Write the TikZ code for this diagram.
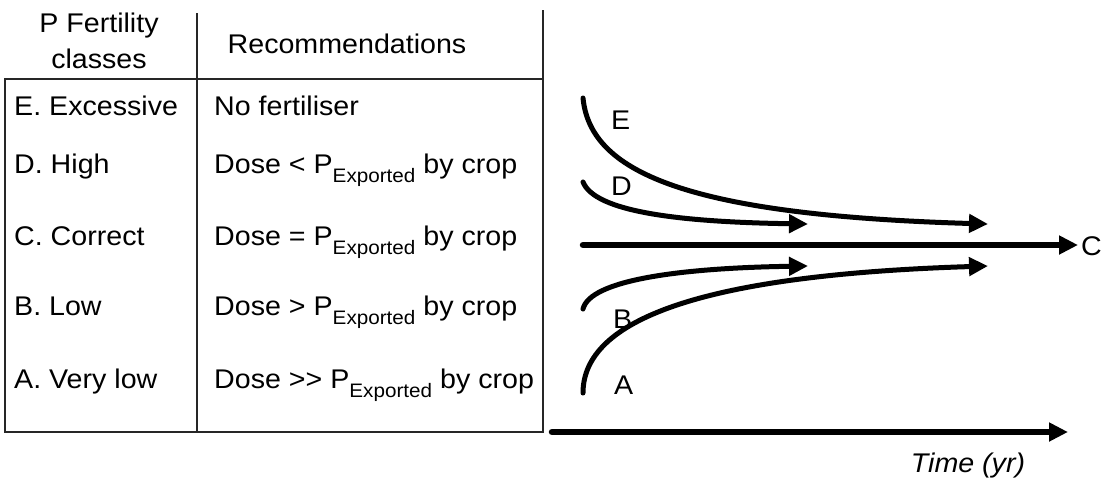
\documentclass[tikz,border=0pt]{standalone}
\usepackage{fontspec}
\setmainfont[FakeStretch=1.06]{Liberation Sans}
\usetikzlibrary{arrows.meta}
\newcommand{\Pexp}{P\raisebox{-9pt}{\fontsize{19.5}{20}\selectfont Exported}}
\begin{document}
\begin{tikzpicture}[x=1pt,y=-1pt,
  txt/.style={inner sep=0pt, anchor=base west, font=\fontsize{27}{32}\selectfont},
  hdr/.style={inner sep=0pt, anchor=base, font=\fontsize{27}{32}\selectfont},
  rulel/.style={line width=1.5pt, black!85},
  curve/.style={line width=5pt, line cap=round, -{Triangle[length=19pt,width=18pt]}},
  axisl/.style={line width=6.5pt, line cap=round, -{Triangle[length=19pt,width=18pt]}}]
\useasboundingbox (0,0) rectangle (1105,483);
% table frame
\coordinate (tl) at (5,79);
\coordinate (tr) at (543,79);
\coordinate (bl) at (5,432);
\coordinate (br) at (543,432);
\coordinate (rtop) at (543,10);
\coordinate (dtop) at (197,13);
\coordinate (dbot) at (197,432);
\draw[rulel] (rtop) -- (br) -- (bl) -- (tl) -- (tr);
\draw[rulel] (dtop) -- (dbot);
% headers
\node[hdr] (h1) at (99,32) {P Fertility};
\node[hdr] (h2) at (99,68) {classes};
\node[hdr] (h3) at (347,53) {Recommendations};
% rows
\node[txt] (rE) at (14,115) {E. Excessive};
\node[txt] (rD) at (14,173) {D. High};
\node[txt] (rC) at (14,245) {C. Correct};
\node[txt] (rB) at (14,315) {B. Low};
\node[txt] (rA) at (14,388) {A. Very low};
\node[txt] (sE) at (214,115) {No fertiliser};
\node[txt] (sD) at (214,173) {Dose < \Pexp{} by crop};
\node[txt] (sC) at (214,245) {Dose = \Pexp{} by crop};
\node[txt] (sB) at (214,315) {Dose > \Pexp{} by crop};
\node[txt] (sA) at (214,388) {Dose >{}> \Pexp{} by crop};
% chart
\coordinate (E0) at (583,98);   \coordinate (E1) at (988,224);
\coordinate (D0) at (583,182);  \coordinate (D1) at (808,224);
\coordinate (C0) at (583,245);  \coordinate (C1) at (1078,245);
\coordinate (B0) at (583,309);  \coordinate (B1) at (808,266);
\coordinate (A0) at (583,393);  \coordinate (A1) at (988,266);
\coordinate (T0) at (552,432);  \coordinate (T1) at (1068,432);
\draw[curve] (E0) .. controls (590,170) and (680,215) .. (E1);
\draw[curve] (D0) .. controls (595,212) and (680,222) .. (D1);
\draw[axisl] (C0) -- (C1);
\draw[curve] (B0) .. controls (590,280) and (680,268) .. (B1);
\draw[curve] (A0) .. controls (583,320) and (700,275) .. (A1);
\draw[axisl] (T0) -- (T1);
% labels
\node[txt] (lE) at (611,129) {E};
\node[txt] (lD) at (611,195) {D};
\node[txt] (lC) at (1081,255) {C};
\node[txt] (lB) at (613,328) {B};
\node[txt] (lA) at (614,394) {A};
\node[hdr] (time) at (968,472) {\itshape Time (yr)};
\end{tikzpicture}
\end{document}
